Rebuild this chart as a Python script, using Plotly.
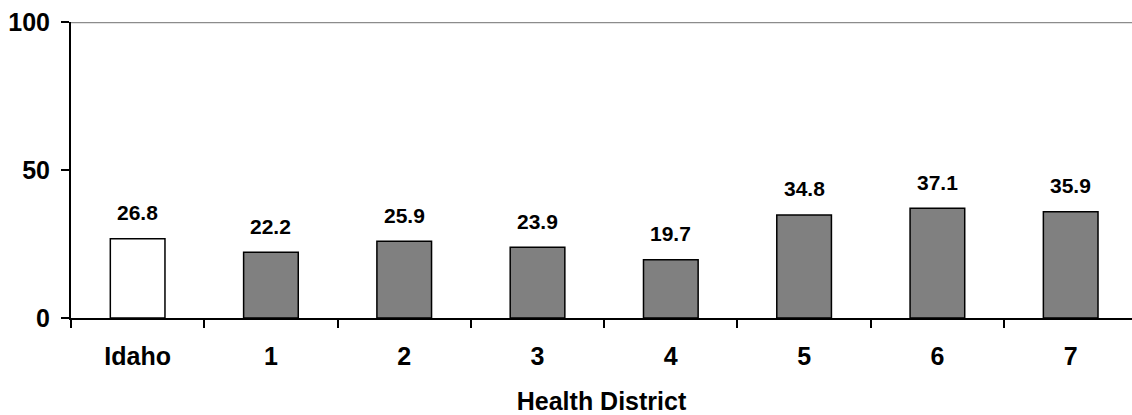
import plotly.graph_objects as go

categories = ["Idaho", "1", "2", "3", "4", "5", "6", "7"]
values = [26.8, 22.2, 25.9, 23.9, 19.7, 34.8, 37.1, 35.9]
bar_colors = ["#FFFFFF"] + ["#808080"] * 7
y_ticks = [0, 50, 100]

FONT = "Arial, Liberation Sans, sans-serif"

fig = go.Figure()
fig.add_trace(go.Bar(
    x=categories, y=values,
    marker=dict(color=bar_colors, line=dict(color="black", width=1.5)),
    hoverinfo="skip",
))

for c, v in zip(categories, values):
    fig.add_annotation(x=c, y=v, text=f"{v:.1f}", showarrow=False,
                       yanchor="middle", yshift=26,
                       font=dict(family=FONT, size=21, color="black", weight="bold"))

# gridline at top value only
fig.add_shape(type="line", xref="paper", x0=0, x1=1, yref="y", y0=y_ticks[-1], y1=y_ticks[-1],
              line=dict(color="#8c8c8c", width=2.5), layer="below")

fig.update_layout(
    width=1132, height=415,
    margin=dict(l=71, r=0, t=22, b=97, autoexpand=False),
    plot_bgcolor="white", paper_bgcolor="white",
    bargap=0.59,
    showlegend=False,
    font=dict(family=FONT, color="black"),
)
fig.update_xaxes(
    type="category", range=[-0.5, 7.46],
    tickson="boundaries", ticks="outside", ticklen=8, tickwidth=1.5, tickcolor="black",
    showline=True, linecolor="black", linewidth=2,
    tickfont=dict(size=25, weight="bold"),
    ticklabelstandoff=15,
    title=dict(text="<b>Health District</b>", font=dict(size=25), standoff=27),
    showgrid=False,
)
fig.update_yaxes(
    range=[0, 100], tickvals=y_ticks,
    ticks="outside", ticklen=8, tickwidth=2, tickcolor="black",
    showline=True, linecolor="black", linewidth=2,
    tickfont=dict(size=25, weight="bold"),
    ticklabelstandoff=6,
    showgrid=False, zeroline=False,
)

fig.write_html("out.html", config={"displayModeBar": False},
               post_script="document.body.style.margin='0';")
